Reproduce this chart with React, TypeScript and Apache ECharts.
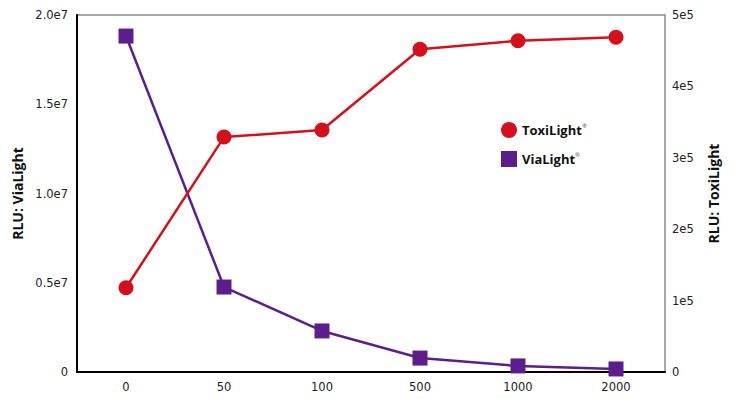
import React, { useEffect, useRef } from "react";
import * as echarts from "echarts";

const categories = ["0", "50", "100", "500", "1000", "2000"];
const toxiLight = [118000, 329000, 339000, 452000, 464000, 469000];
const viaLight = [18820000, 4760000, 2300000, 780000, 340000, 170000];
const leftTicks = { min: 0, max: 20000000, interval: 5000000 };
const rightTicks = { min: 0, max: 500000, interval: 100000 };

const RED = "#d4101d";
const PURPLE = "#5c1e8c";
const FONT = "'Open Sans', 'Noto Sans', sans-serif";

export default function App() {
  const ref = useRef<HTMLDivElement>(null);
  useEffect(() => {
    if (!ref.current) return;
    const chart = echarts.init(ref.current, undefined, { renderer: "svg" });
    chart.setOption({
      animation: false,
      backgroundColor: "#fff",
      textStyle: { fontFamily: FONT },
      grid: {
        left: 77,
        right: 85,
        top: 15,
        bottom: 27,
        show: true,
        borderColor: "#8a8a8a",
        borderWidth: 1.5,
      },
      legend: {
        orient: "vertical",
        left: 496,
        top: 117,
        itemGap: 13,
        itemWidth: 16,
        itemHeight: 16,
        itemGap2: 0,
        data: [
          { name: "ToxiLight", icon: "circle" },
          { name: "ViaLight", icon: "rect" },
        ],
        formatter: (n: string) => `{a|${n}}{r|®}`,
        textStyle: {
          rich: {
            a: { fontSize: 13, fontWeight: "bold", color: "#111", fontFamily: FONT },
            r: { fontSize: 6, color: "#555", verticalAlign: "top", padding: [0, 0, 8, 0] },
          },
        },
      },
      xAxis: {
        type: "category",
        data: categories,
        boundaryGap: true,
        axisTick: { show: false },
        axisLine: { show: true, lineStyle: { color: "#000", width: 2 } },
        axisLabel: { color: "#222", fontSize: 11.5, margin: 9, fontFamily: "'DejaVu Sans', sans-serif" },
        splitLine: { show: false },
      },
      yAxis: [
        {
          type: "value",
          position: "left",
          ...leftTicks,
          name: "RLU: ViaLight",
          nameLocation: "middle",
          nameRotate: 90,
          nameGap: 48,
          nameTextStyle: { fontSize: 14, fontWeight: "bold", color: "#111", fontFamily: FONT },
          axisLine: { show: true, lineStyle: { color: "#000", width: 2 } },
          axisTick: { show: false },
          splitLine: { show: false },
          axisLabel: {
            color: "#222",
            fontSize: 11.5,
            margin: 9,
            fontFamily: "'DejaVu Sans', sans-serif",
            formatter: (v: number) => (v === 0 ? "0" : (v / 1e7).toFixed(1) + "e7"),
          },
        },
        {
          type: "value",
          position: "right",
          ...rightTicks,
          name: "RLU: ToxiLight",
          nameLocation: "middle",
          nameRotate: 90,
          nameGap: 41,
          nameTextStyle: { fontSize: 14, fontWeight: "bold", color: "#111", fontFamily: FONT },
          axisLine: { show: false },
          axisTick: { show: false },
          splitLine: { show: false },
          axisLabel: {
            color: "#222",
            fontSize: 11.5,
            margin: 7,
            fontFamily: "'DejaVu Sans', sans-serif",
            formatter: (v: number) => (v === 0 ? "0" : Math.round(v / 1e5) + "e5"),
          },
        },
      ],
      series: [
        {
          name: "ViaLight",
          type: "line",
          yAxisIndex: 0,
          data: viaLight,
          symbol: "rect",
          symbolSize: 15,
          itemStyle: { color: PURPLE },
          lineStyle: { color: PURPLE, width: 2.5 },
          z: 2,
        },
        {
          name: "ToxiLight",
          type: "line",
          yAxisIndex: 1,
          data: toxiLight,
          symbol: "circle",
          symbolSize: 15,
          itemStyle: { color: RED },
          lineStyle: { color: RED, width: 2.5 },
          z: 3,
        },
      ],
    });
    return () => chart.dispose();
  }, []);
  return (
    <div
      ref={ref}
      style={{ position: "fixed", left: 0, top: 0, width: 750, height: 399, background: "#fff" }}
    />
  );
}
